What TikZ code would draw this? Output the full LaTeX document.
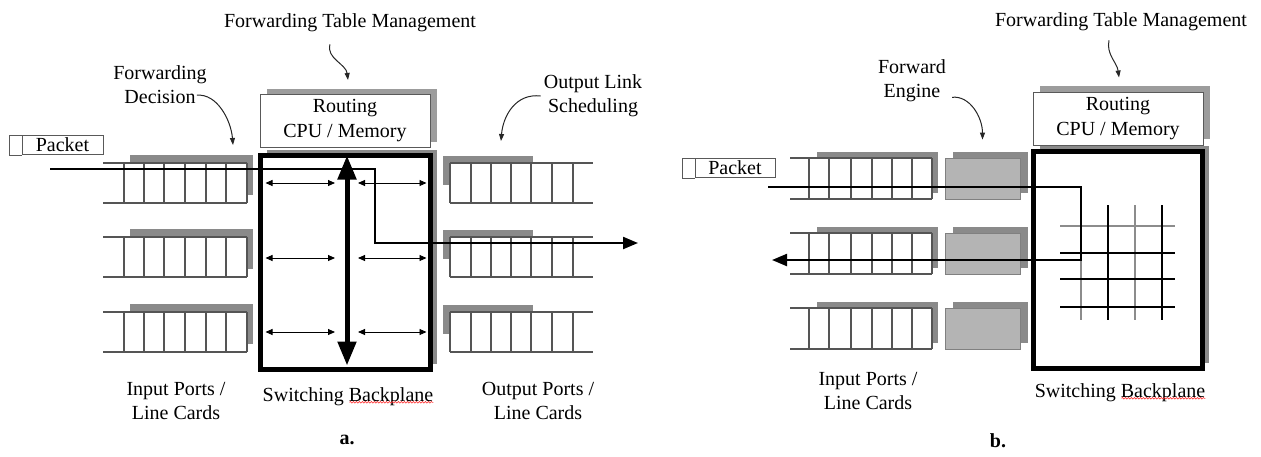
\documentclass[tikz,border=0pt]{standalone}
\usepackage{fontspec}
\setmainfont{Liberation Serif}
\usetikzlibrary{arrows.meta,calc,shadows,decorations.pathmorphing}
\definecolor{shadegray}{HTML}{8A8A8A}
\definecolor{enginegray}{HTML}{B4B4B4}
\definecolor{qgray}{HTML}{555555}
\tikzset{
  lbl/.style={font=\fontsize{20}{24}\selectfont, inner sep=0pt, align=center},
  qline/.style={draw=qgray, line width=1.2pt},
  qshade/.style={fill=shadegray},
  routebox/.style={rectangle, draw=black!65, line width=1pt, fill=white, align=center,
    font=\fontsize{20}{25}\selectfont, minimum width=170pt, minimum height=53pt, inner sep=0pt,
    general shadow={fill=shadegray!85, shadow xshift=7pt, shadow yshift=6pt}},
  backplane/.style={rectangle, draw=black, line width=5pt, fill=white, inner sep=0pt,
    general shadow={fill=shadegray, shadow xshift=7pt, shadow yshift=5pt}},
  pktbox/.style={rectangle, draw=black!65, line width=1pt, minimum height=19pt, inner sep=0pt,
    font=\fontsize{20}{24}\selectfont},
  engine/.style={rectangle, draw=black!50, line width=0.8pt, fill=enginegray, minimum width=75pt,
    minimum height=41pt, general shadow={fill=shadegray, shadow xshift=8pt, shadow yshift=6pt}},
  curvy/.style={-{Triangle[length=7pt,width=5pt]}, line width=1pt, draw=black!85},
  pktflow/.style={line width=2.2pt, -{Triangle[length=15pt,width=12pt]}},
  xfer/.style={{Triangle[length=7pt,width=6pt]}-{Triangle[length=7pt,width=6pt]}, line width=0.9pt},
  bus/.style={{Triangle[length=24pt,width=18pt]}-{Triangle[length=24pt,width=18pt]}, line width=5pt},
  xbar/.style={line width=2pt},
  squiggle/.style={draw=red!80, line width=0.6pt, decorate,
    decoration={snake, amplitude=0.8pt, segment length=3pt}},
}

\begin{document}
\begin{tikzpicture}[x=1pt, y=-1pt]
  \useasboundingbox (0,0) rectangle (1261,456);

  % a. shared backplane
  \foreach \t in {163,237,312} {
    \fill[qshade] (130,\t-8) rectangle (253,\t+32);
    \fill[white] (124,\t) rectangle (247,\t+40);
    \draw[qline] (103,\t) -- (247,\t) (103,\t+40) -- (247,\t+40);
    \foreach \x in {124,144,164,185,206,226,247} \draw[qline] (\x,\t) -- (\x,\t+40);
    \fill[qshade] (443,\t-7) rectangle (533,\t+22);
    \fill[white] (450,\t) rectangle (573,\t+40);
    \draw[qline] (450,\t) -- (593,\t) (450,\t+40) -- (593,\t+40);
    \foreach \x in {450,471,491,511,531,552,573} \draw[qline] (\x,\t) -- (\x,\t+40);
  }
  \node[routebox] (rtA) at (345,121) {Routing\\CPU / Memory};
  \node[backplane, minimum width=170pt, minimum height=214pt] (bpA) at (345,262) {};
  \foreach \dy in {-79,-4,70} {
    \draw[xfer] ($(bpA.west)+(8,\dy)$) -- ($(bpA.center)+(-10,\dy)$);
    \draw[xfer] ($(bpA.center)+(13,\dy)$) -- ($(bpA.east)+(-6,\dy)$);
  }
  \draw[bus] ([xshift=2pt,yshift=-3pt]bpA.north) -- ([xshift=2pt,yshift=6pt]bpA.south);

  \node[lbl] (ftmA) at (350,23) {Forwarding Table Management};
  \draw[curvy] ([xshift=-20pt,yshift=-12pt]ftmA.south) .. controls +(-4,14) and +(-2,-16) .. ([xshift=3pt,yshift=14pt]rtA.north);
  \node[lbl] (fdA) at (160,85) {Forwarding\\Decision};
  \coordinate (fdAtip) at (233,145);
  \draw[curvy] ([xshift=-10pt,yshift=9pt]fdA.south east) .. controls +(20,-2) and +(-2,-25) .. (fdAtip);
  \node[lbl] (olsA) at (593,96) {Output Link\\Scheduling};
  \coordinate (olsAtip) at (501,141);
  \draw[curvy] ([xshift=-3pt]olsA.west) .. controls +(-25,-3) and +(2,-25) .. (olsAtip);

  \node[pktbox, minimum width=81pt] (pktA) at (62.5,145) {Packet};
  \draw[black!65, line width=1pt] (pktA.north west) -- ++(-12,0) |- (pktA.south west);
  \coordinate (inA) at (50,169);
  \coordinate (turnA) at (375,169);
  \coordinate (outA) at (638,243);
  \draw[pktflow] (inA) -- (turnA) |- (outA);

  \node[lbl] (ipA) at (176,401) {Input Ports /\\Line Cards};
  \node[lbl] (sbA) at (348,397) {Switching Backplane};
  \draw[squiggle] ([xshift=-84pt,yshift=4pt]sbA.south east) -- ([yshift=4pt]sbA.south east);
  \node[lbl] (opA) at (538,401) {Output Ports /\\Line Cards};
  \node[lbl, font=\fontsize{20}{24}\selectfont\bfseries] (capA) at (347,440) {a.};

  % b. crossbar with forward engines
  \foreach \t [count=\i] in {158,233,308} {
    \fill[qshade] (817,\t-6) rectangle (938,\t+35);
    \fill[white] (809,\t) rectangle (932,\t+41);
    \draw[qline] (790,\t) -- (932,\t) (790,\t+41) -- (932,\t+41);
    \foreach \x in {809,829,851,872,892,912,932} \draw[qline] (\x,\t) -- (\x,\t+41);
    \node[engine] (eng\i) at (982.5,\t+20.5) {};
  }
  \node[routebox] (rtB) at (1118,118.5) {Routing\\CPU / Memory};
  \node[backplane, minimum width=169pt, minimum height=217pt] (bpB) at (1117.5,259.5) {};
  \foreach \x in {1081,1135} \draw[xbar, black!45] (\x,205) -- (\x,320);
  \draw[xbar, black!45] (1060,226) -- (1175,226);
  \foreach \y in {253,279,307} \draw[xbar] (1060,\y) -- (1175,\y);
  \foreach \x in {1108,1162} \draw[xbar] (\x,205) -- (\x,320);

  \node[lbl] (ftmB) at (1121,22) {Forwarding Table Management};
  \draw[curvy] ([xshift=-12pt,yshift=-9pt]ftmB.south) .. controls +(-3,14) and +(-2,-15) .. ([xshift=1pt,yshift=14pt]rtB.north);
  \node[lbl] (feB) at (912,81) {Forward\\Engine};
  \draw[curvy] ([xshift=6pt,yshift=5pt]feB.south east) .. controls +(18,-2) and +(0,-22) .. ([yshift=18pt]eng1.north);

  \node[pktbox, minimum width=80pt] (pktB) at (735,168) {Packet};
  \draw[black!65, line width=1pt] (pktB.north west) -- ++(-12,0) |- (pktB.south west);
  \coordinate (inB) at (768,187);
  \coordinate (turnB) at (1081,187);
  \coordinate (outB) at (772,260);
  \draw[pktflow] (inB) -- (turnB) |- (outB);

  \node[lbl] (ipB) at (868,391) {Input Ports /\\Line Cards};
  \node[lbl] (sbB) at (1120,393) {Switching Backplane};
  \draw[squiggle] ([xshift=-84pt,yshift=4pt]sbB.south east) -- ([yshift=4pt]sbB.south east);
  \node[lbl, font=\fontsize{20}{24}\selectfont\bfseries] (capB) at (998,441) {b.};
\end{tikzpicture}
\end{document}
